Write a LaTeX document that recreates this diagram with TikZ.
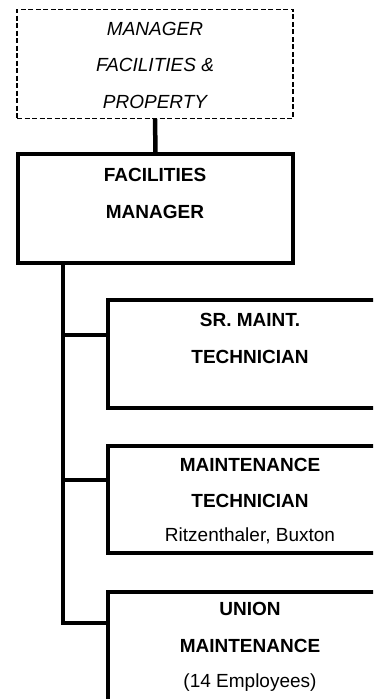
\documentclass[tikz,border=0pt]{standalone}
\usepackage{fontspec}
\setmainfont{Liberation Sans}
\begin{document}
\begin{tikzpicture}[x=1pt,y=1pt,
  solidbox/.style={draw, line width=3.6pt, rectangle, inner sep=0pt},
  dashbox/.style={draw, line width=1.2pt, dash pattern=on 5pt off 2.5pt, rectangle, inner sep=0pt},
  link/.style={line width=3.6pt, line join=miter},
  boxtext/.style={align=center, inner sep=0pt, font=\fontsize{19}{37}\selectfont}]
\useasboundingbox (0,0) rectangle (373,699);
\clip (0,0) rectangle (373,699);
% boxes
\node[dashbox, minimum width=276pt, minimum height=109pt] (mfp) at (155,635.3) {};
\node[solidbox, minimum width=275pt, minimum height=109pt] (fm) at (155.5,490.5) {};
\node[solidbox, minimum width=284pt, minimum height=108pt] (sr) at (250,345) {};
\node[solidbox, minimum width=284pt, minimum height=107pt] (mt) at (250,199.5) {};
\node[solidbox, minimum width=284pt, minimum height=128pt] (um) at (250,43) {};
% texts
\node[boxtext, font=\fontsize{19}{36.5}\selectfont\itshape] (tmfp) at (155,633.7) {MANAGER\\FACILITIES \&\\PROPERTY};
\node[boxtext, font=\fontsize{19}{37}\selectfont\bfseries] (tfm) at (155,505.5) {FACILITIES\\MANAGER};
\node[boxtext, font=\fontsize{19}{37}\selectfont\bfseries] (tsr) at (250,360.5) {SR. MAINT.\\TECHNICIAN};
\node[boxtext] (tmt) at (250,198) {\textbf{MAINTENANCE}\\[-1pt]\textbf{TECHNICIAN}\\[-3pt]Ritzenthaler, Buxton};
\node[boxtext] (tum) at (250,52) {\textbf{UNION}\\[0pt]\textbf{MAINTENANCE}\\[-2pt](14 Employees)};
% connectors
\coordinate (tx) at (63,0);
\coordinate (b1) at ([yshift=-37pt]sr.north west);
\coordinate (b2) at ([yshift=-36pt]mt.north west);
\coordinate (b3) at ([yshift=-33pt]um.north west);
\draw[line width=4.5pt] (mfp.south) -- (fm.north);
\draw[link] (fm.south -| tx) |- (b3);
\draw[link] (b1) -- (b1 -| tx);
\draw[link] (b2) -- (b2 -| tx);
\end{tikzpicture}
\end{document}
